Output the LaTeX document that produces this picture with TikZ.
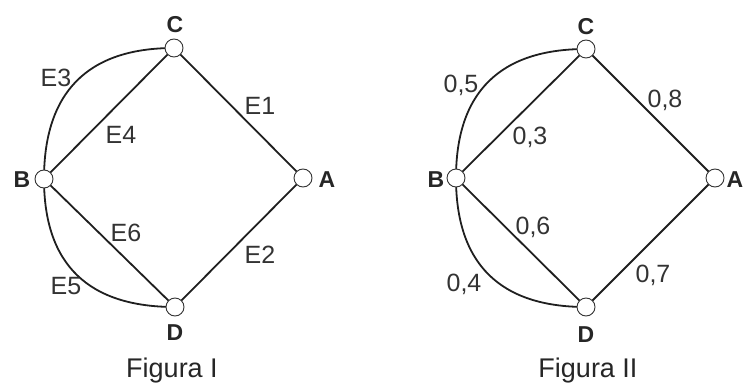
\documentclass[tikz,border=0pt]{standalone}
\usepackage{fontspec}
\setmainfont{Liberation Sans}
\begin{document}
\begin{tikzpicture}[x=1pt,y=-1pt,
  vtx/.style={circle,draw=black!80,line width=0.9pt,fill=white,minimum size=18pt,inner sep=0pt},
  edge/.style={line width=1.8pt,draw=black!88},
  vlab/.style={font=\fontsize{23}{26}\selectfont\bfseries,text=black!85,inner sep=0pt},
  elab/.style={font=\fontsize{25}{29}\selectfont,text=black!80,inner sep=0pt},
  figcap/.style={font=\fontsize{27}{31}\selectfont,text=black!85,inner sep=0pt}]
\useasboundingbox (0,0) rectangle (743,385);
% ---------- Figura I ----------
\coordinate (C1) at (174,48);
\coordinate (B1) at (44,179);
\coordinate (A1) at (303,178);
\coordinate (D1) at (175,307);
\draw[edge] (C1) -- (A1);
\draw[edge] (A1) -- (D1);
\draw[edge] (B1) -- (C1);
\draw[edge] (B1) -- (D1);
\draw[edge] (B1) to[out=90,in=180,looseness=1.2] (C1);
\draw[edge] (B1) to[out=-90,in=180,looseness=1.2] (D1);
\node[vtx] (nC1) at (C1) {};
\node[vtx] (nB1) at (B1) {};
\node[vtx] (nA1) at (A1) {};
\node[vtx] (nD1) at (D1) {};
\node[vlab] (lC1) at (175,25) {C};
\node[vlab] (lB1) at (22,180) {B};
\node[vlab] (lA1) at (327,180) {A};
\node[vlab] (lD1) at (175,333) {D};
\node[elab] (e3) at (56,78) {E3};
\node[elab] (e1) at (260,106) {E1};
\node[elab] (e4) at (121,135) {E4};
\node[elab] (e6) at (126,233) {E6};
\node[elab] (e2) at (260,255) {E2};
\node[elab] (e5) at (66,286) {E5};
\node[figcap] (f1) at (172,371) {Figura I};
% ---------- Figura II ----------
\coordinate (C2) at (586,49);
\coordinate (B2) at (456,178);
\coordinate (A2) at (715,178);
\coordinate (D2) at (586,307);
\draw[edge] (C2) -- (A2);
\draw[edge] (A2) -- (D2);
\draw[edge] (B2) -- (C2);
\draw[edge] (B2) -- (D2);
\draw[edge] (B2) to[out=90,in=180,looseness=1.2] (C2);
\draw[edge] (B2) to[out=-90,in=180,looseness=1.2] (D2);
\node[vtx] (nC2) at (C2) {};
\node[vtx] (nB2) at (B2) {};
\node[vtx] (nA2) at (A2) {};
\node[vtx] (nD2) at (D2) {};
\node[vlab] (lC2) at (586,27) {C};
\node[vlab] (lB2) at (436,180) {B};
\node[vlab] (lA2) at (735,180) {A};
\node[vlab] (lD2) at (586,335) {D};
\node[elab] (w5) at (461,85) {0,5};
\node[elab] (w8) at (665,100) {0,8};
\node[elab] (w3) at (530,137) {0,3};
\node[elab] (w6) at (533,227) {0,6};
\node[elab] (w7) at (653,275) {0,7};
\node[elab] (w4) at (464,284) {0,4};
\node[figcap] (f2) at (588,371) {Figura II};
\end{tikzpicture}
\end{document}
